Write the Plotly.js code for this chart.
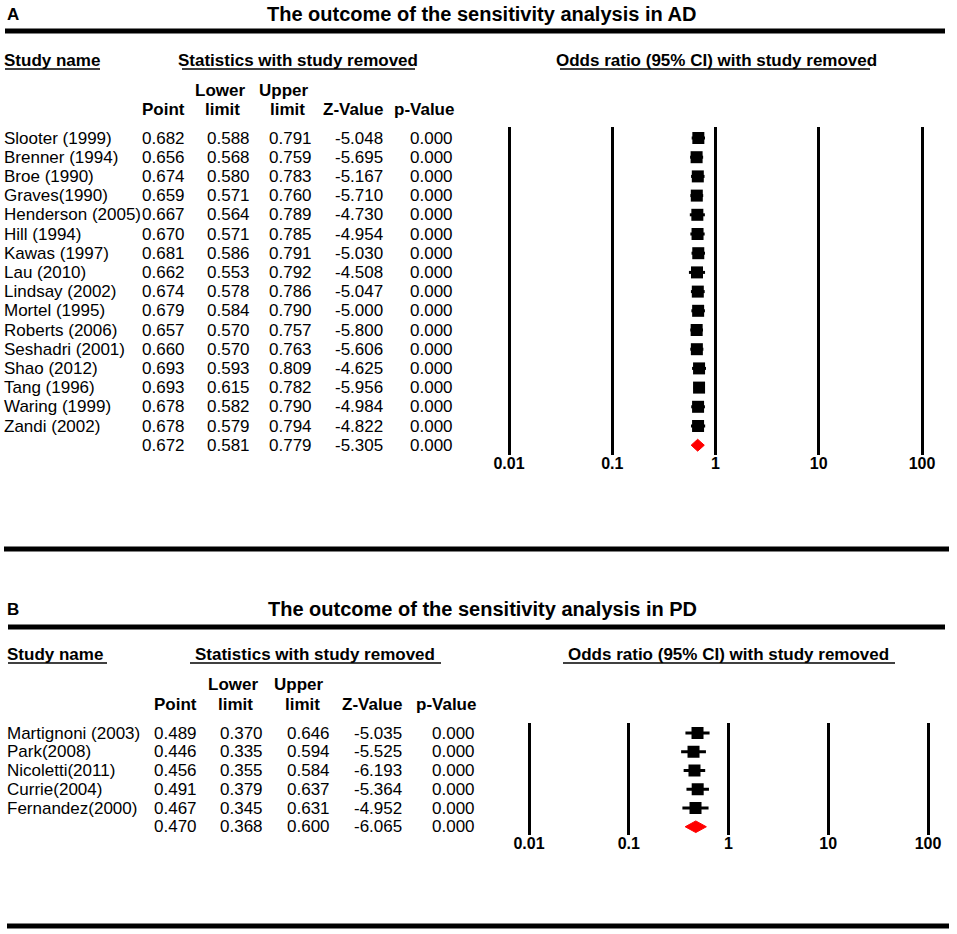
<!DOCTYPE html>
<html>
<head>
<meta charset="utf-8">
<script src="https://cdn.plot.ly/plotly-3.0.1.min.js"></script>
<style>html,body{margin:0;padding:0;background:#fff;}#chart{width:957px;height:934px;}</style>
</head>
<body>
<div id="chart"></div>
<script>
// ---------- Data: panel A (AD) ----------
const studiesAD = ["Slooter (1999)","Brenner (1994)","Broe (1990)","Graves(1990)","Henderson (2005)","Hill (1994)","Kawas (1997)","Lau (2010)","Lindsay (2002)","Mortel (1995)","Roberts (2006)","Seshadri (2001)","Shao (2012)","Tang (1996)","Waring (1999)","Zandi (2002)"];
const pointAD = [0.682,0.656,0.674,0.659,0.667,0.670,0.681,0.662,0.674,0.679,0.657,0.660,0.693,0.693,0.678,0.678];
const lowerAD = [0.588,0.568,0.580,0.571,0.564,0.571,0.586,0.553,0.578,0.584,0.570,0.570,0.593,0.615,0.582,0.579];
const upperAD = [0.791,0.759,0.783,0.760,0.789,0.785,0.791,0.792,0.786,0.790,0.757,0.763,0.809,0.782,0.790,0.794];
const zAD = [-5.048,-5.695,-5.167,-5.710,-4.730,-4.954,-5.030,-4.508,-5.047,-5.000,-5.800,-5.606,-4.625,-5.956,-4.984,-4.822];
const pAD = [0,0,0,0,0,0,0,0,0,0,0,0,0,0,0,0];
const overallAD = [0.672,0.581,0.779,-5.305,0.000]; // point, lower, upper, z, p

// ---------- Data: panel B (PD) ----------
const studiesPD = ["Martignoni (2003)","Park(2008)","Nicoletti(2011)","Currie(2004)","Fernandez(2000)"];
const pointPD = [0.489,0.446,0.456,0.491,0.467];
const lowerPD = [0.370,0.335,0.355,0.379,0.345];
const upperPD = [0.646,0.594,0.584,0.637,0.631];
const zPD = [-5.035,-5.525,-6.193,-5.364,-4.952];
const pPD = [0,0,0,0,0];
const overallPD = [0.470,0.368,0.600,-6.065,0.000];

const tickVals = [0.01,0.1,1,10,100];
const tickLabels = ["0.01","0.1","1","10","100"];

// ---------- Layout helpers ----------
const W = 957, H = 934;
const FONT = "Liberation Sans, Arial, Helvetica, sans-serif";
const px = x => x / W;
const py = y => 1 - y / H;

function logRange(pxLo, pxHi, domLo, domHi) {
  const dec = (pxHi - pxLo) / 4;
  return [-2 - (pxLo - domLo) / dec, 2 + (domHi - pxHi) / dec];
}

const annotations = [];
const shapes = [];
function txt(text, x, y, opts) {
  opts = opts || {};
  const anchor = opts.xanchor || 'left';
  const shift = anchor === 'left' ? -3 : (anchor === 'right' ? 2 : 0);
  annotations.push({
    text: text, x: x, y: y, xref: 'paper', yref: opts.yref || 'paper',
    xanchor: anchor, yanchor: 'middle', xshift: shift, showarrow: false,
    font: {family: FONT, size: opts.size || 17, color: '#000', weight: opts.bold ? 'bold' : 'normal'}
  });
}
function hline(x0, x1, y, w) {
  shapes.push({type: 'line', xref: 'paper', yref: 'paper', x0: px(x0), x1: px(x1), y0: py(y), y1: py(y),
    line: {color: '#000', width: w}});
}

function buildPanel(cfg) {
  const n = cfg.names.length;
  txt(cfg.letter, px(cfg.letterX), py(cfg.titleY), {bold: true, size: 17});
  txt(cfg.title, px(cfg.titleX), py(cfg.titleY), {bold: true, size: 20, xanchor: 'center'});
  hline(cfg.ruleX0, cfg.ruleX1, cfg.ruleY, 5);
  txt("Study name", px(cfg.nameX), py(cfg.h1Y), {bold: true});
  txt("Statistics with study removed", px(cfg.statsX), py(cfg.h1Y), {bold: true, xanchor: 'center'});
  txt("Odds ratio (95% CI) with study removed", px(cfg.orX), py(cfg.h1Y), {bold: true, xanchor: 'center'});
  hline(cfg.ul.name[0], cfg.ul.name[1], cfg.ul.y, 1.5);
  hline(cfg.ul.stats[0], cfg.ul.stats[1], cfg.ul.y, 1.5);
  hline(cfg.ul.or[0], cfg.ul.or[1], cfg.ul.y, 1.5);
  txt("Lower", px(cfg.hLowerC), py(cfg.h2Y), {bold: true, xanchor: 'center'});
  txt("Upper", px(cfg.hUpperC), py(cfg.h2Y), {bold: true, xanchor: 'center'});
  txt("Point", px(cfg.colR[0]), py(cfg.h3Y), {bold: true, xanchor: 'right'});
  txt("limit", px(cfg.hLowerC + 2), py(cfg.h3Y), {bold: true, xanchor: 'center'});
  txt("limit", px(cfg.hUpperC + 3), py(cfg.h3Y), {bold: true, xanchor: 'center'});
  txt("Z-Value", px(cfg.colR[3]), py(cfg.h3Y), {bold: true, xanchor: 'right'});
  txt("p-Value", px(cfg.colR[4] + 1), py(cfg.h3Y), {bold: true, xanchor: 'right'});
  const yref = cfg.yaxis;
  for (let i = 0; i < n; i++) {
    txt(cfg.names[i], px(cfg.nameX), i, {yref: yref});
    const vals = [cfg.point[i], cfg.lower[i], cfg.upper[i], cfg.z[i], cfg.p[i]];
    vals.forEach((v, k) => txt(v.toFixed(3), px(cfg.colR[k]), i, {yref: yref, xanchor: 'right'}));
  }
  cfg.overall.forEach((v, k) => txt(v.toFixed(3), px(cfg.colR[k]), n, {yref: yref, xanchor: 'right'}));
}

// ---------- Panel geometry (pixels) ----------
const A = {
  letter: "A", letterX: 8, title: "The outcome of the sensitivity analysis in AD", titleX: 481, titleY: 14,
  ruleX0: 5, ruleX1: 945, ruleY: 31,
  nameX: 5, statsX: 298, orX: 716, h1Y: 60, h2Y: 90, h3Y: 109,
  ul: {y: 69, name: [5, 100], stats: [182, 415], or: [560, 870]},
  hLowerC: 220, hUpperC: 284, colR: [185, 250, 312, 383, 453],
  names: studiesAD, point: pointAD, lower: lowerAD, upper: upperAD, z: zAD, p: pAD, overall: overallAD,
  yaxis: 'y', row0: 138, rowH: 19.2, lineTop: 127, lineBot: 455, px001: 509, px100: 922
};
const B = {
  letter: "B", letterX: 8, title: "The outcome of the sensitivity analysis in PD", titleX: 483, titleY: 609,
  ruleX0: 8, ruleX1: 945, ruleY: 627,
  nameX: 8, statsX: 315, orX: 728, h1Y: 654, h2Y: 684, h3Y: 704,
  ul: {y: 663, name: [8, 107], stats: [190, 441], or: [563, 895]},
  hLowerC: 233, hUpperC: 299, colR: [197, 263, 330, 402, 475],
  names: studiesPD, point: pointPD, lower: lowerPD, upper: upperPD, z: zPD, p: pPD, overall: overallPD,
  yaxis: 'y2', row0: 733, rowH: 18.75, lineTop: 723, lineBot: 835, px001: 529, px100: 928
};
buildPanel(A);
buildPanel(B);
hline(4, 949, 549, 5);
hline(7, 949, 926, 5);

const domX = [490, 945];

function xaxisFor(cfg, anchor) {
  return {
    type: 'log', domain: [px(domX[0]), px(domX[1])], range: logRange(cfg.px001, cfg.px100, domX[0], domX[1]),
    anchor: anchor, tickmode: 'array', tickvals: tickVals, ticktext: tickLabels,
    tickfont: {family: FONT, size: 16, color: '#000', weight: 'bold'}, ticklabelstandoff: -3,
    showgrid: true, gridcolor: '#000', gridwidth: 3, zeroline: false, showline: false, ticks: '',
    fixedrange: true
  };
}
function yaxisFor(cfg, anchor) {
  const top = (cfg.lineTop - cfg.row0) / cfg.rowH;
  const bot = (cfg.lineBot - cfg.row0) / cfg.rowH;
  return {
    domain: [py(cfg.lineBot), py(cfg.lineTop)], range: [bot, top], anchor: anchor,
    showgrid: false, zeroline: false, showline: false, showticklabels: false, ticks: '', fixedrange: true
  };
}

function tracesFor(cfg, xa, ya) {
  const n = cfg.names.length;
  const rows = cfg.names.map((_, i) => i);
  const studies = {
    type: 'scatter', mode: 'markers', x: cfg.point, y: rows, xaxis: xa, yaxis: ya,
    marker: {symbol: 'square', size: 12, color: '#000'},
    error_x: {type: 'data', symmetric: false,
      array: cfg.point.map((v, i) => cfg.upper[i] - v),
      arrayminus: cfg.point.map((v, i) => v - cfg.lower[i]),
      color: '#000', thickness: 3, width: 0},
    hoverinfo: 'skip', showlegend: false
  };
  const h = 0.31;
  const o = cfg.overall;
  const diamond = {
    type: 'scatter', mode: 'lines', xaxis: xa, yaxis: ya,
    x: [o[1], o[0], o[2], o[0], o[1]], y: [n, n - h, n, n + h, n],
    fill: 'toself', fillcolor: '#ff0000', line: {color: '#ff0000', width: 1},
    hoverinfo: 'skip', showlegend: false
  };
  return [studies, diamond];
}

const data = [].concat(tracesFor(A, 'x', 'y'), tracesFor(B, 'x2', 'y2'));
const layout = {
  width: W, height: H, margin: {l: 0, r: 0, t: 0, b: 0},
  paper_bgcolor: '#fff', plot_bgcolor: 'rgba(0,0,0,0)', showlegend: false,
  font: {family: FONT, color: '#000'},
  xaxis: xaxisFor(A, 'y'), yaxis: yaxisFor(A, 'x'),
  xaxis2: xaxisFor(B, 'y2'), yaxis2: yaxisFor(B, 'x2'),
  annotations: annotations, shapes: shapes
};
Plotly.newPlot('chart', data, layout, {staticPlot: true, displayModeBar: false});
</script>
</body>
</html>
